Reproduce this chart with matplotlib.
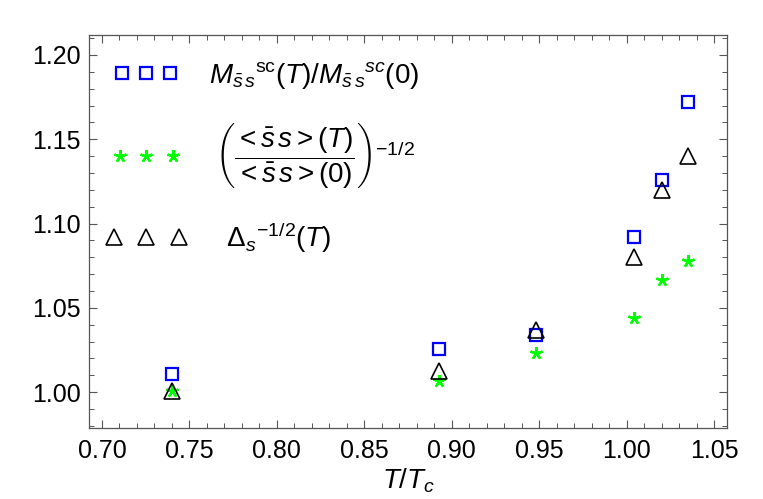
import matplotlib
matplotlib.use("Agg")
import matplotlib.pyplot as plt
from matplotlib.ticker import MultipleLocator, FormatStrFormatter
from matplotlib.legend_handler import HandlerLine2D

plt.rcParams['font.family'] = ['Liberation Sans', 'DejaVu Sans']
plt.rcParams['mathtext.fontset'] = 'custom'
plt.rcParams['mathtext.rm'] = 'Liberation Sans'
plt.rcParams['mathtext.it'] = 'Liberation Sans:italic'
plt.rcParams['mathtext.bf'] = 'Liberation Sans:bold'

# data
T = [0.74, 0.893, 0.948, 1.0045, 1.02, 1.035]
mass_ratio = [1.0107, 1.0255, 1.034, 1.0923, 1.1259, 1.1718]
condensate = [1.0008, 1.0069, 1.0231, 1.044, 1.0666, 1.078]
delta_s = [1.0005, 1.0126, 1.037, 1.080, 1.120, 1.1402]

labels = [
    r'$M_{\bar{s}\,s}{}^{\mathrm{sc}}(T)/M_{\bar{s}\,s}{}^{sc}(0)$',
    r'$\;\left(\dfrac{<\bar{s}\,s>(T)}{<\bar{s}\,s>(0)}\right)^{-1/2}$',
    r'$\enspace\;\Delta_s{}^{-1/2}(T)$',
]

fig = plt.figure(figsize=(7.63, 4.99), dpi=100)
ax = fig.add_axes([89.3/763, 1-428.3/499, (727.3-89.3)/763, (428.3-34.7)/499])

h1, = ax.plot(T, mass_ratio, linestyle='none', marker='s', ms=9, mfc='none',
              mec='#0000FF', mew=1.6, label=labels[0])
h2, = ax.plot(T, condensate, linestyle='none', marker=(5, 2, 0), ms=9,
              mec='#00FF00', mew=1.7, label=labels[1])
h3, = ax.plot(T, delta_s, linestyle='none', marker='^', ms=12, mfc='none',
              mec='black', mew=1.2, label=labels[2])

ax.set_xlim(0.6928, 1.0576)
ax.set_ylim(0.9786, 1.212)
ax.xaxis.set_major_locator(MultipleLocator(0.05))
ax.xaxis.set_minor_locator(MultipleLocator(0.01))
ax.yaxis.set_major_locator(MultipleLocator(0.05))
ax.yaxis.set_minor_locator(MultipleLocator(0.01))
ax.xaxis.set_major_formatter(FormatStrFormatter('%.2f'))
ax.yaxis.set_major_formatter(FormatStrFormatter('%.2f'))
ax.tick_params(which='both', direction='in', top=True, right=True,
               labelsize=18, color='#555555')
ax.tick_params(which='major', length=6, width=0.8)
ax.tick_params(which='minor', length=3.5, width=0.7)
ax.tick_params(axis='x', pad=8)
ax.tick_params(axis='y', pad=6)
for s in ax.spines.values():
    s.set_color('#555555')
    s.set_linewidth(0.9)

ax.set_xlabel(r'$T/T_c$', fontsize=20, labelpad=2)

leg = ax.legend(handles=[h1, h2, h3], loc='upper left',
                bbox_to_anchor=(0.021, 0.965), frameon=False,
                numpoints=3, handlelength=2.33, handletextpad=1.1,
                labelspacing=1.1, fontsize=20, borderaxespad=0,
                handler_map={h1: HandlerLine2D(marker_pad=0.3, numpoints=3),
                             h2: HandlerLine2D(marker_pad=0.21, numpoints=3),
                             h3: HandlerLine2D(marker_pad=0.0, numpoints=3)})

fig.savefig('out.png', dpi=100)
